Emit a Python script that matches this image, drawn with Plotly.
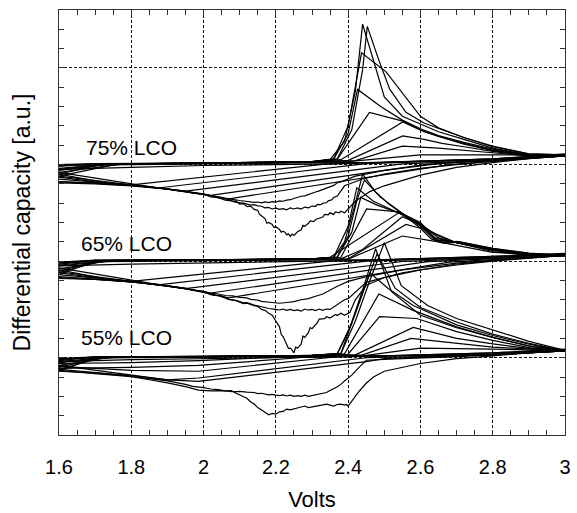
import plotly.graph_objects as go

# ---------------- data (Volts, differential capacity in a.u.) ----------------
# 75% LCO - charge branches (each curve: list of (V, dQ/dV))
CHARGE_75 = [
    [(1.6,13.5),(1.72,14.02),(2.0,14.08),(2.3,14.15),(2.35,14.25),(2.39,15.2),(2.42,17.8),(2.44,21.27),(2.47,19.4),(2.50,17.5),(2.55,16.5),(2.61,16.0),(2.65,15.7),(2.72,15.3),(2.8,14.85),(2.9,14.5),(3.0,14.45)],
    [(1.6,13.7),(1.75,14.03),(2.0,14.08),(2.3,14.15),(2.37,14.3),(2.41,15.8),(2.44,18.9),(2.453,21.15),(2.485,19.4),(2.515,17.9),(2.56,16.7),(2.61,16.15),(2.66,15.8),(2.72,15.4),(2.8,14.92),(2.9,14.55),(3.0,14.5)],
    [(1.6,13.9),(1.7,14.04),(2.0,14.08),(2.3,14.15),(2.36,14.3),(2.40,16.0),(2.437,19.78),(2.505,18.8),(2.60,16.5),(2.65,15.9),(2.72,15.4),(2.8,14.95),(2.9,14.55),(3.0,14.5)],
    [(1.6,13.6),(1.78,14.03),(2.0,14.07),(2.3,14.14),(2.36,14.28),(2.40,15.6),(2.426,17.89),(2.49,17.0),(2.55,16.3),(2.6,15.85),(2.65,15.5),(2.72,15.15),(2.8,14.8),(2.9,14.5),(3.0,14.45)],
    [(1.6,13.8),(1.74,14.02),(2.0,14.07),(2.3,14.14),(2.37,14.28),(2.459,16.7),(2.551,16.25),(2.6,15.8),(2.65,15.45),(2.72,15.1),(2.8,14.75),(2.9,14.48),(3.0,14.45)],
    [(1.6,14.0),(1.7,14.05),(2.0,14.08),(2.3,14.14),(2.38,14.25),(2.551,16.2),(2.61,15.7),(2.66,15.4),(2.72,15.05),(2.8,14.72),(2.9,14.46),(3.0,14.45)],
    [(1.6,13.4),(1.76,14.02),(2.0,14.07),(2.3,14.13),(2.40,14.22),(2.551,15.48),(2.61,15.3),(2.66,15.1),(2.72,14.92),(2.8,14.68),(2.9,14.45),(3.0,14.45)],
    [(1.6,13.75),(1.73,14.02),(2.0,14.06),(2.3,14.12),(2.42,14.2),(2.55,14.95),(2.65,14.85),(2.8,14.6),(2.9,14.45),(3.0,14.45)],
    [(1.6,13.95),(1.7,14.04),(2.0,14.06),(2.4,14.15),(2.6,14.5),(2.8,14.5),(3.0,14.5)],
]
# 75% LCO - discharge branches (from 3 V down to 1.6 V)
DISCHARGE_75 = [
    [(3.0,14.45),(2.9,14.3),(2.8,14.1),(2.7,13.85),(2.6,13.45),(2.5,12.9),(2.46,12.6),(2.42,12.1),(2.40,11.7),(2.39,11.5),(2.38,11.58),(2.375,11.5),(2.365,11.55),(2.36,11.42),(2.35,11.5),(2.345,11.4),(2.335,11.42),(2.33,11.28),(2.32,11.22),(2.31,11.16),(2.305,11.05),(2.295,11.08),(2.29,10.96),(2.28,10.8),(2.275,10.85),(2.27,10.62),(2.26,10.52),(2.255,10.42),(2.25,10.33),(2.245,10.4),(2.24,10.28),(2.235,10.42),(2.23,10.36),(2.225,10.5),(2.22,10.55),(2.215,10.5),(2.21,10.64),(2.2,10.78),(2.195,10.74),(2.19,10.9),(2.18,11.0),(2.175,10.96),(2.17,11.2),(2.16,11.35),(2.155,11.42),(2.15,11.62),(2.14,11.68),(2.13,11.85),(2.12,11.82),(2.11,11.98),(2.1,11.95),(2.09,12.12),(2.08,12.1),(2.07,12.2),(2.06,12.22),(2.05,12.3),(2.04,12.28),(2.03,12.36),(2.0,12.46),(1.97,12.52),(1.95,12.62),(1.92,12.66),(1.9,12.75),(1.87,12.78),(1.85,12.86),(1.8,12.93),(1.75,12.98),(1.7,13.05),(1.6,13.1)],
    [(3.0,14.45),(2.85,14.25),(2.7,14.0),(2.6,13.8),(2.5,13.5),(2.44,13.25),(2.39,12.9),(2.37,12.37),(2.36,12.3),(2.355,12.18),(2.345,12.12),(2.34,12.02),(2.33,12.0),(2.325,11.92),(2.315,11.94),(2.31,11.84),(2.3,11.85),(2.29,11.76),(2.28,11.8),(2.27,11.7),(2.26,11.76),(2.25,11.7),(2.24,11.76),(2.23,11.66),(2.22,11.72),(2.21,11.68),(2.2,11.74),(2.19,11.7),(2.18,11.78),(2.17,11.76),(2.16,11.84),(2.15,11.86),(2.14,11.92),(2.13,11.9),(2.11,12.0),(2.09,12.04),(2.077,12.12),(2.06,12.16),(2.04,12.28),(2.02,12.32),(2.0,12.47),(1.95,12.58),(1.9,12.74),(1.85,12.82),(1.8,12.92),(1.7,13.03),(1.6,13.12)],
    [(3.0,14.5),(2.8,14.25),(2.65,14.05),(2.5,13.7),(2.42,13.4),(2.38,13.1),(2.37,13.06),(2.36,12.92),(2.35,12.84),(2.34,12.8),(2.33,12.68),(2.32,12.64),(2.31,12.58),(2.3,12.5),(2.29,12.46),(2.28,12.38),(2.27,12.36),(2.26,12.28),(2.25,12.24),(2.24,12.18),(2.23,12.16),(2.22,12.1),(2.21,12.12),(2.2,12.06),(2.19,12.08),(2.18,12.03),(2.17,12.07),(2.16,12.02),(2.15,12.06),(2.14,12.04),(2.12,12.08),(2.1,12.14),(2.08,12.2),(2.06,12.24),(2.04,12.33),(2.02,12.38),(2.0,12.48),(1.95,12.6),(1.9,12.72),(1.8,12.9),(1.7,13.0),(1.6,13.05)],
    [(3.0,14.5),(2.8,14.28),(2.35,14.05),(1.80,12.95),(1.7,13.1),(1.6,13.35)],
    [(3.0,14.5),(2.8,14.25),(2.45,14.05),(1.88,12.8),(1.75,12.98),(1.6,13.5)],
    [(3.0,14.45),(2.8,14.22),(2.55,14.03),(1.95,12.62),(1.8,12.94),(1.6,13.25)],
    [(3.0,14.45),(2.8,14.2),(2.62,14.02),(2.02,12.4),(1.85,12.86),(1.6,13.6)],
    [(3.0,14.45),(2.75,14.12),(2.68,14.0),(2.07,12.22),(1.95,12.62),(1.8,12.95),(1.6,13.4)],
    [(3.0,14.5),(2.8,14.3),(2.5,14.12),(2.0,14.05),(1.8,14.0),(1.6,13.95)],
    [(3.0,14.55),(2.8,14.3),(2.4,14.05),(2.0,13.95),(1.8,13.85),(1.6,13.75)],
]

# 65% LCO
CHARGE_65 = [
    [(1.6,8.5),(1.72,9.03),(2.0,9.07),(2.3,9.12),(2.36,9.2),(2.39,10.0),(2.42,12.0),(2.44,13.5),(2.475,12.6),(2.51,12.0),(2.55,11.45),(2.6,10.7),(2.63,10.15),(2.66,9.95),(2.7,10.02),(2.8,9.65),(2.9,9.4),(3.0,9.3)],
    [(1.6,8.8),(1.75,9.04),(2.0,9.07),(2.3,9.12),(2.37,9.22),(2.40,10.3),(2.425,12.2),(2.445,13.2),(2.49,12.3),(2.55,11.5),(2.6,10.8),(2.64,10.1),(2.67,9.92),(2.71,10.0),(2.8,9.66),(2.9,9.42),(3.0,9.3)],
    [(1.6,8.3),(1.7,9.02),(2.0,9.06),(2.3,9.12),(2.36,9.2),(2.40,10.8),(2.424,12.8),(2.47,12.1),(2.55,11.4),(2.6,10.85),(2.65,10.05),(2.7,10.0),(2.8,9.62),(2.9,9.38),(3.0,9.28)],
    [(1.6,8.95),(1.7,9.05),(2.0,9.07),(2.3,9.12),(2.37,9.2),(2.41,10.5),(2.435,12.3),(2.48,11.9),(2.54,11.5),(2.6,10.9),(2.645,10.1),(2.7,9.98),(2.8,9.6),(2.9,9.38),(3.0,9.28)],
    [(1.6,8.6),(1.74,9.03),(2.0,9.06),(2.3,9.11),(2.38,9.2),(2.451,11.7),(2.54,11.55),(2.6,11.0),(2.64,10.2),(2.7,9.96),(2.8,9.6),(2.9,9.36),(3.0,9.28)],
    [(1.6,8.75),(1.76,9.03),(2.0,9.06),(2.3,9.1),(2.35,9.2),(2.54,11.5),(2.6,10.95),(2.65,10.2),(2.7,9.95),(2.8,9.58),(2.9,9.35),(3.0,9.28)],
    [(1.6,8.4),(1.72,9.02),(2.0,9.05),(2.38,9.12),(2.44,9.6),(2.55,11.3),(2.6,10.9),(2.65,10.3),(2.7,9.95),(2.8,9.55),(2.9,9.33),(3.0,9.28)],
    [(1.6,8.9),(1.7,9.04),(2.0,9.05),(2.4,9.12),(2.56,10.9),(2.62,10.6),(2.7,9.95),(2.8,9.5),(2.9,9.3),(3.0,9.28)],
    [(1.6,8.85),(1.7,9.04),(2.0,9.05),(2.4,9.1),(2.55,10.3),(2.65,10.0),(2.8,9.45),(3.0,9.28)],
]
DISCHARGE_65 = [
    [(3.0,9.3),(2.9,9.15),(2.8,9.0),(2.7,8.8),(2.6,8.55),(2.5,8.15),(2.45,7.75),(2.42,7.0),(2.405,6.35),(2.39,6.2),(2.38,6.3),(2.37,6.18),(2.365,6.24),(2.35,6.05),(2.34,6.12),(2.335,6.02),(2.32,6.0),(2.315,5.82),(2.31,5.7),(2.3,5.5),(2.295,5.56),(2.29,5.3),(2.28,5.05),(2.275,5.12),(2.27,4.7),(2.26,4.5),(2.255,4.55),(2.25,4.25),(2.245,4.4),(2.24,4.5),(2.235,4.48),(2.23,4.7),(2.22,5.1),(2.215,5.2),(2.21,5.6),(2.2,5.9),(2.19,6.2),(2.18,6.3),(2.17,6.45),(2.16,6.5),(2.15,6.65),(2.14,6.7),(2.12,6.82),(2.11,6.8),(2.09,6.95),(2.07,7.02),(2.05,7.2),(2.03,7.22),(2.0,7.42),(1.97,7.5),(1.95,7.6),(1.9,7.72),(1.85,7.82),(1.8,7.92),(1.7,8.05),(1.6,8.15)],
    [(3.0,9.3),(2.85,9.1),(2.7,8.85),(2.55,8.4),(2.45,7.9),(2.40,7.06),(2.39,7.0),(2.38,6.88),(2.37,6.75),(2.36,6.62),(2.35,6.5),(2.34,6.52),(2.33,6.45),(2.32,6.52),(2.31,6.44),(2.3,6.5),(2.29,6.46),(2.28,6.52),(2.27,6.42),(2.26,6.48),(2.25,6.44),(2.24,6.5),(2.23,6.45),(2.22,6.52),(2.21,6.47),(2.2,6.5),(2.19,6.52),(2.18,6.55),(2.17,6.6),(2.16,6.64),(2.15,6.7),(2.14,6.72),(2.12,6.85),(2.11,6.84),(2.09,6.97),(2.07,7.02),(2.04,7.22),(2.02,7.26),(2.0,7.42),(1.95,7.58),(1.9,7.73),(1.8,7.94),(1.7,8.06),(1.6,8.2)],
    [(3.0,9.3),(2.85,9.12),(2.7,8.9),(2.55,8.55),(2.45,8.2),(2.4,7.95),(2.37,7.7),(2.35,7.5),(2.33,7.3),(2.31,7.18),(2.29,7.06),(2.27,7.0),(2.25,6.9),(2.23,6.86),(2.21,6.82),(2.19,6.86),(2.18,6.88),(2.16,6.92),(2.15,6.98),(2.13,7.02),(2.12,7.1),(2.1,7.12),(2.08,7.2),(2.06,7.22),(2.04,7.3),(2.02,7.34),(2.0,7.43),(1.95,7.58),(1.9,7.72),(1.8,7.93),(1.7,8.05),(1.6,8.1)],
    [(3.0,9.35),(2.8,9.2),(2.35,9.0),(1.80,7.95),(1.7,8.15),(1.6,8.4)],
    [(3.0,9.35),(2.8,9.18),(2.45,9.0),(1.88,7.78),(1.75,8.0),(1.6,8.55)],
    [(3.0,9.3),(2.8,9.15),(2.55,8.98),(1.95,7.58),(1.8,7.95),(1.6,8.3)],
    [(3.0,9.3),(2.8,9.12),(2.62,8.97),(2.02,7.35),(1.85,7.86),(1.6,8.65)],
    [(3.0,9.3),(2.75,9.05),(2.68,8.95),(2.07,7.1),(1.95,7.57),(1.8,7.95),(1.6,8.45)],
    [(3.0,9.35),(2.8,9.25),(2.5,9.08),(2.0,9.02),(1.8,8.98),(1.6,8.95)],
    [(3.0,9.4),(2.8,9.25),(2.4,9.02),(2.0,8.92),(1.8,8.85),(1.6,8.75)],
]

# 55% LCO
CHARGE_55 = [
    [(1.6,3.5),(1.72,4.03),(2.0,4.07),(2.3,4.12),(2.37,4.22),(2.40,5.3),(2.44,7.5),(2.476,9.64),(2.52,7.42),(2.6,6.2),(2.7,5.55),(2.8,5.05),(2.9,4.62),(3.0,4.35)],
    [(1.6,3.8),(1.75,4.04),(2.0,4.07),(2.3,4.12),(2.38,4.22),(2.42,5.9),(2.46,8.0),(2.50,9.95),(2.547,7.73),(2.62,6.7),(2.70,6.03),(2.81,5.36),(2.9,4.85),(3.0,4.38)],
    [(1.6,3.3),(1.7,4.02),(2.0,4.06),(2.3,4.12),(2.37,4.2),(2.41,5.8),(2.48,9.38),(2.53,7.6),(2.6,6.6),(2.7,5.85),(2.8,5.22),(2.9,4.75),(3.0,4.35)],
    [(1.6,3.95),(1.7,4.05),(2.0,4.07),(2.3,4.12),(2.38,4.22),(2.42,6.3),(2.46,8.4),(2.51,7.6),(2.58,6.7),(2.7,5.7),(2.8,5.15),(2.9,4.7),(3.0,4.35)],
    [(1.6,3.6),(1.74,4.03),(2.0,4.06),(2.3,4.11),(2.39,4.2),(2.485,7.3),(2.58,6.45),(2.7,5.6),(2.8,5.05),(2.9,4.6),(3.0,4.35)],
    [(1.6,3.75),(1.76,4.03),(2.0,4.06),(2.3,4.1),(2.4,4.18),(2.487,6.13),(2.59,6.03),(2.7,5.35),(2.8,4.9),(2.9,4.52),(3.0,4.35)],
    [(1.6,3.4),(1.72,4.02),(2.0,4.05),(2.42,4.15),(2.58,5.57),(2.7,5.0),(2.8,4.72),(2.9,4.48),(3.0,4.35)],
    [(1.6,3.9),(1.7,4.04),(2.0,4.05),(2.44,4.15),(2.574,5.0),(2.7,4.75),(2.8,4.55),(3.0,4.35)],
    [(1.6,3.85),(1.7,4.04),(2.0,4.05),(2.45,4.12),(2.6,4.5),(2.8,4.45),(3.0,4.35)],
]
DISCHARGE_55 = [
    [(3.0,4.35),(2.9,4.25),(2.8,4.1),(2.7,3.95),(2.6,3.7),(2.5,3.3),(2.47,3.0),(2.45,2.68),(2.43,2.26),(2.41,1.75),(2.40,1.5),(2.395,1.58),(2.39,1.55),(2.38,1.6),(2.37,1.58),(2.36,1.5),(2.35,1.54),(2.34,1.6),(2.33,1.56),(2.32,1.52),(2.31,1.5),(2.3,1.44),(2.29,1.42),(2.28,1.5),(2.27,1.45),(2.26,1.39),(2.25,1.36),(2.24,1.3),(2.23,1.34),(2.22,1.22),(2.21,1.2),(2.2,1.08),(2.19,1.12),(2.18,1.05),(2.17,1.18),(2.16,1.29),(2.15,1.42),(2.14,1.6),(2.13,1.72),(2.12,1.9),(2.11,1.98),(2.1,2.1),(2.09,2.16),(2.077,2.3),(2.06,2.28),(2.04,2.35),(2.02,2.38),(2.0,2.45),(1.97,2.52),(1.95,2.62),(1.9,2.8),(1.85,2.92),(1.8,3.05),(1.7,3.2),(1.6,3.3)],
    [(3.0,4.35),(2.85,4.2),(2.7,4.05),(2.55,3.95),(2.45,3.87),(2.43,3.5),(2.41,3.1),(2.39,2.8),(2.38,2.62),(2.37,2.5),(2.36,2.38),(2.35,2.3),(2.34,2.2),(2.33,2.16),(2.32,2.1),(2.31,2.05),(2.3,2.02),(2.29,2.0),(2.28,2.06),(2.27,2.0),(2.26,2.04),(2.25,2.0),(2.24,2.06),(2.23,2.02),(2.22,2.08),(2.21,2.04),(2.2,2.06),(2.19,2.1),(2.18,2.08),(2.17,2.12),(2.16,2.16),(2.15,2.14),(2.14,2.2),(2.12,2.22),(2.1,2.26),(2.08,2.24),(2.05,2.3),(2.02,2.28),(1.986,2.32),(1.95,2.5),(1.9,2.7),(1.85,2.86),(1.8,3.02),(1.7,3.18),(1.6,3.35)],
    [(3.0,4.35),(2.8,4.15),(2.5,3.95),(2.45,3.8),(1.986,2.78),(1.9,2.85),(1.8,3.08),(1.6,3.4)],
    [(3.0,4.4),(2.8,4.2),(2.37,4.05),(1.986,3.3),(1.8,3.35),(1.6,3.55)],
    [(3.0,4.4),(2.8,4.18),(2.3,4.05),(1.986,3.6),(1.8,3.5),(1.6,3.45)],
    [(3.0,4.35),(2.8,4.15),(2.2,4.02),(1.986,3.85),(1.8,3.75),(1.6,3.7)],
    [(3.0,4.35),(2.8,4.15),(2.45,4.0),(1.986,2.95),(1.9,2.85),(1.8,3.1),(1.6,3.6)],
    [(3.0,4.4),(2.8,4.25),(2.5,4.1),(2.0,4.05),(1.8,4.0),(1.6,3.95)],
    [(3.0,4.45),(2.8,4.25),(2.4,4.05),(2.0,3.95),(1.8,3.9),(1.6,3.8)],
]

LABELS = ["75% LCO", "65% LCO", "55% LCO"]
LABEL_X = [1.668, 1.655, 1.655]
LABEL_Y = [14.9, 9.93, 5.03]

X_TICKS = [1.6, 1.8, 2.0, 2.2, 2.4, 2.6, 2.8, 3.0]
X_TICK_TEXT = ["1.6", "1.8", "2", "2.2", "2.4", "2.6", "2.8", "3"]

FONT = "Liberation Sans, Arial, Helvetica, sans-serif"

# ---------------- figure ----------------
fig = go.Figure()


def add_group(curves):
    xs, ys = [], []
    for c in curves:
        xs.extend([p[0] for p in c] + [None])
        ys.extend([p[1] for p in c] + [None])
    fig.add_trace(go.Scatter(x=xs, y=ys, mode="lines",
                             line=dict(color="black", width=1.2),
                             hoverinfo="skip", showlegend=False,
                             connectgaps=False))


for grp in (CHARGE_75, DISCHARGE_75, CHARGE_65, DISCHARGE_65, CHARGE_55, DISCHARGE_55):
    add_group(grp)

for txt, lx, ly in zip(LABELS, LABEL_X, LABEL_Y):
    fig.add_annotation(x=lx, y=ly, text=txt, showarrow=False,
                       xanchor="left", yanchor="middle",
                       font=dict(family=FONT, size=21, color="black"))

fig.update_layout(
    width=577, height=513,
    margin=dict(l=59, r=6, t=10, b=76),
    paper_bgcolor="white", plot_bgcolor="white",
    font=dict(family=FONT, color="black"),
    showlegend=False,
)

fig.update_xaxes(
    range=[1.6, 3.0], tickmode="array", tickvals=X_TICKS, ticktext=X_TICK_TEXT,
    showgrid=True, gridcolor="#111", gridwidth=1, griddash="3px,2px",
    ticks="inside", ticklen=5, tickcolor="#333",
    minor=dict(dtick=0.05, tick0=1.6, ticks="inside", ticklen=5, tickcolor="#333", showgrid=False),
    showline=True, linecolor="#333", linewidth=1, mirror="allticks",
    tickfont=dict(size=20, family=FONT), ticklabelstandoff=14,
    title=dict(text="Volts", font=dict(size=22, family=FONT), standoff=14),
    zeroline=False,
)
fig.update_yaxes(
    range=[0, 22], tick0=4, dtick=5, showticklabels=False,
    showgrid=True, gridcolor="#111", gridwidth=1, griddash="3px,2px",
    ticks="inside", ticklen=5, tickcolor="#333",
    minor=dict(dtick=1, tick0=0, ticks="inside", ticklen=5, tickcolor="#333", showgrid=False),
    showline=True, linecolor="#333", linewidth=1, mirror="allticks",
    title=dict(text="Differential capacity [a.u.]", font=dict(size=23, family=FONT), standoff=20),
    zeroline=False,
)

fig.write_html("out.html")
